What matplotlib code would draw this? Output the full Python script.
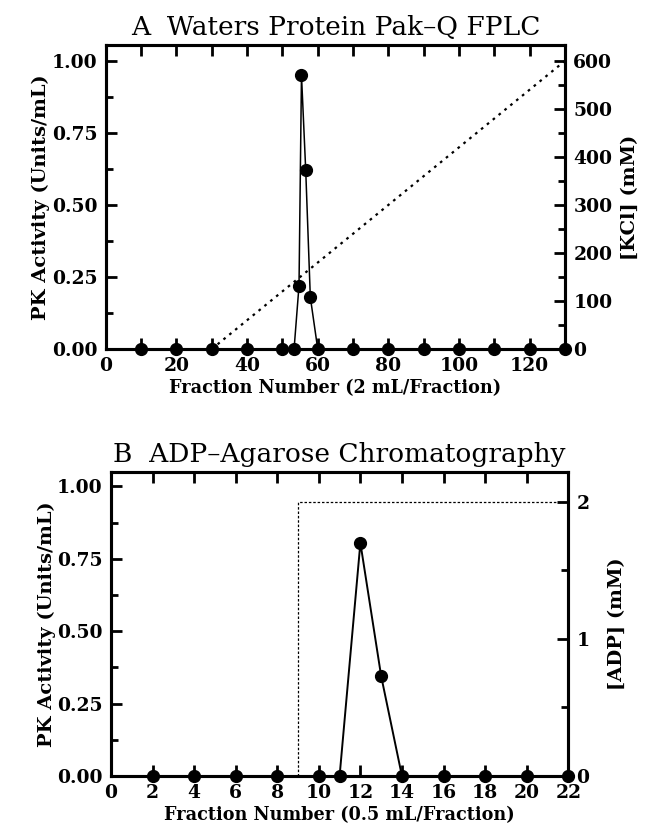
import matplotlib
matplotlib.use("Agg")
import matplotlib.pyplot as plt
from matplotlib.ticker import MultipleLocator

plt.rcParams['font.family'] = ['DejaVu Serif']
plt.rcParams['font.weight'] = 'bold'
plt.rcParams['axes.labelweight'] = 'bold'

# panel A: Waters Protein Pak-Q FPLC
a_frac = [10, 20, 30, 40, 50, 53.3, 54.7, 55.4, 56.6, 57.9, 60, 70, 80, 90, 100, 110, 120, 130]
a_pk = [0, 0, 0, 0, 0, 0, 0.22, 0.95, 0.62, 0.18, 0, 0, 0, 0, 0, 0, 0, 0]
kcl_x = [30, 130]
kcl_mM = [0, 600]

# panel B: ADP-Agarose
b_frac = [2, 4, 6, 8, 10, 11, 12, 13, 14, 16, 18, 20, 22]
b_pk = [0, 0, 0, 0, 0, 0, 0.805, 0.345, 0, 0, 0, 0, 0]
adp_x = [9, 9, 22]
adp_mM = [0, 2, 2]

fig = plt.figure(figsize=(6.45, 8.33), dpi=100)


def style(ax, ax2):
    for a in (ax, ax2):
        for s in a.spines.values():
            s.set_linewidth(2.2)
    ax.tick_params(which='both', direction='in', top=True, width=2, labelsize=13.5, pad=6)
    ax.tick_params(which='major', length=8)
    ax.tick_params(which='minor', length=5)
    ax.tick_params(axis='x', which='minor', length=8)
    ax2.tick_params(which='both', direction='in', width=2, labelsize=13.5, pad=6)
    ax2.tick_params(which='major', length=8)
    ax2.tick_params(which='minor', length=5)
    ax.yaxis.set_major_locator(MultipleLocator(0.25))
    ax.yaxis.set_minor_locator(MultipleLocator(0.125))
    ax.yaxis.set_major_formatter(plt.FormatStrFormatter('%.2f'))
    ax.set_ylabel('PK Activity (Units/mL)', fontsize=14, labelpad=1)


# ---- A ----
axA = fig.add_axes([0.164, 0.581, 0.712, 0.365])
axA.plot(a_frac, a_pk, color='black', lw=1.1, marker='o', ms=8.5, clip_on=False, zorder=5)
axA.set_xlim(0, 130)
axA.set_ylim(0, 1.055)
axA.xaxis.set_major_locator(MultipleLocator(20))
axA.xaxis.set_minor_locator(MultipleLocator(10))
axA.set_xlabel('Fraction Number (2 mL/Fraction)', fontsize=12.7, labelpad=3)
axA.set_title('A  Waters Protein Pak\u2013Q FPLC', fontsize=19, fontweight='normal', pad=7)
axA2 = axA.twinx()
axA2.plot(kcl_x, kcl_mM, color='black', lw=1.6, ls=(0, (1.2, 2.2)))
axA2.set_ylim(0, 1.055 * 600 / 1.0)
axA2.yaxis.set_major_locator(MultipleLocator(100))
axA2.yaxis.set_minor_locator(MultipleLocator(50))
axA2.set_ylabel('[KCl] (mM)', fontsize=14, labelpad=6)
style(axA, axA2)

# ---- B ----
axB = fig.add_axes([0.172, 0.0684, 0.709, 0.365])
axB.plot(b_frac, b_pk, color='black', lw=1.4, marker='o', ms=8.5, clip_on=False, zorder=5)
axB.set_xlim(0, 22)
axB.set_ylim(0, 1.05)
axB.xaxis.set_major_locator(MultipleLocator(2))
axB.set_xlabel('Fraction Number (0.5 mL/Fraction)', fontsize=12.7, labelpad=3)
axB.set_title('B  ADP\u2013Agarose Chromatography', fontsize=19, fontweight='normal', pad=7)
axB2 = axB.twinx()
axB2.plot(adp_x, adp_mM, color='black', lw=0.9, ls=(0, (2, 1.5)))
axB2.set_ylim(0, 1.05 * 2 / 0.948)
axB2.yaxis.set_major_locator(MultipleLocator(1))
axB2.yaxis.set_minor_locator(MultipleLocator(0.5))
axB2.set_ylabel('[ADP] (mM)', fontsize=14, labelpad=13)
style(axB, axB2)

fig.savefig('out.png', dpi=100)
